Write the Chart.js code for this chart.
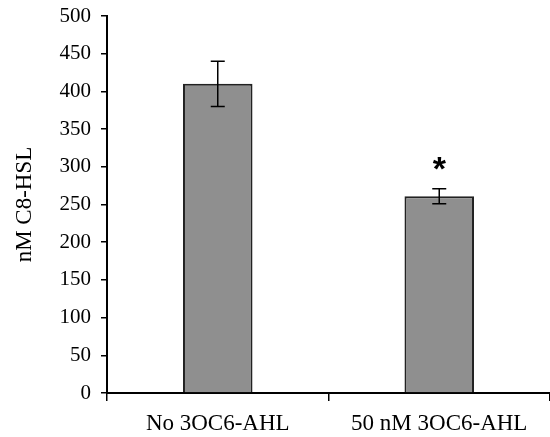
<!DOCTYPE html>
<html>
<head>
<meta charset="utf-8">
<script src="https://cdn.jsdelivr.net/npm/chart.js@4"></script>
<style>
  html, body { margin: 0; padding: 0; background: #fff; }
  #wrap { width: 550px; height: 437px; }
</style>
</head>
<body>
<div id="wrap"><canvas id="c8Chart"></canvas></div>
<script>
// Datos del gráfico
const categories = ['No 3OC6-AHL', '50 nM 3OC6-AHL'];
const means = [410, 261];
const errors = [30, 10];
const marks = ['', '*'];
const yTicks = [0, 50, 100, 150, 200, 250, 300, 350, 400, 450, 500];

// Barras de error y asterisco
const errorBarsPlugin = {
    id: 'errorBars',
    afterDatasetsDraw(chart) {
        const ctx = chart.ctx;
        const y = chart.scales.y;
        const meta = chart.getDatasetMeta(0);
        ctx.save();
        ctx.strokeStyle = '#000';
        ctx.lineWidth = 1.5;
        meta.data.forEach((bar, i) => {
            const x = bar.x;
            const top = y.getPixelForValue(means[i] + errors[i]);
            const bottom = y.getPixelForValue(means[i] - errors[i]);
            ctx.beginPath();
            ctx.moveTo(x, top); ctx.lineTo(x, bottom);
            ctx.moveTo(x - 7, top); ctx.lineTo(x + 7, top);
            ctx.moveTo(x - 7, bottom); ctx.lineTo(x + 7, bottom);
            ctx.stroke();
            if (marks[i]) {
                ctx.fillStyle = '#000';
                ctx.font = 'bold 34px "Liberation Sans"';
                ctx.textAlign = 'center';
                ctx.textBaseline = 'middle';
                ctx.fillText(marks[i], x, top - 18);
            }
        });
        ctx.restore();
    }
};

const ctx = document.getElementById('c8Chart').getContext('2d');
new Chart(ctx, {
    type: 'bar',
    data: {
        labels: categories,
        datasets: [{
            data: means,
            backgroundColor: '#8f8f8f',
            borderColor: '#222',
            borderWidth: 2,
            borderSkipped: 'bottom',
            barPercentage: 0.314,
            categoryPercentage: 1
        }]
    },
    options: {
        responsive: true,
        maintainAspectRatio: false,
        animation: false,
        layout: { padding: { top: 16, right: 0, left: 0, bottom: 0 } },
        plugins: {
            legend: { display: false },
            tooltip: { enabled: false }
        },
        scales: {
            x: {
                offset: true,
                grid: {
                    offset: true,
                    drawOnChartArea: false,
                    color: '#000',
                    tickLength: 8,
                    lineWidth: 1.5
                },
                border: { display: true, color: '#000', width: 2 },
                ticks: {
                    color: '#000',
                    padding: 9,
                    font: { family: '"Liberation Serif"', size: 23 }
                },
                afterFit(scale) {
                    scale.height = 44;
                    scale.paddingLeft = 0;
                    scale.paddingRight = 0;
                }
            },
            y: {
                min: 0,
                max: 500,
                afterBuildTicks(scale) { scale.ticks = yTicks.map(v => ({ value: v })); },
                grid: {
                    drawOnChartArea: false,
                    color: '#000',
                    tickLength: 6,
                    lineWidth: 1.5
                },
                border: { display: true, color: '#000', width: 2 },
                ticks: {
                    color: '#000',
                    padding: 10,
                    font: { family: '"Liberation Serif"', size: 21 }
                },
                title: {
                    display: true,
                    text: 'nM C8-HSL',
                    color: '#000',
                    padding: { top: 11, bottom: 0 },
                    font: { family: '"Liberation Serif"', size: 23 }
                },
                afterFit(scale) {
                    scale.width = 107;
                    scale.paddingTop = 0;
                    scale.paddingBottom = 0;
                }
            }
        }
    },
    plugins: [errorBarsPlugin]
});
</script>
</body>
</html>
